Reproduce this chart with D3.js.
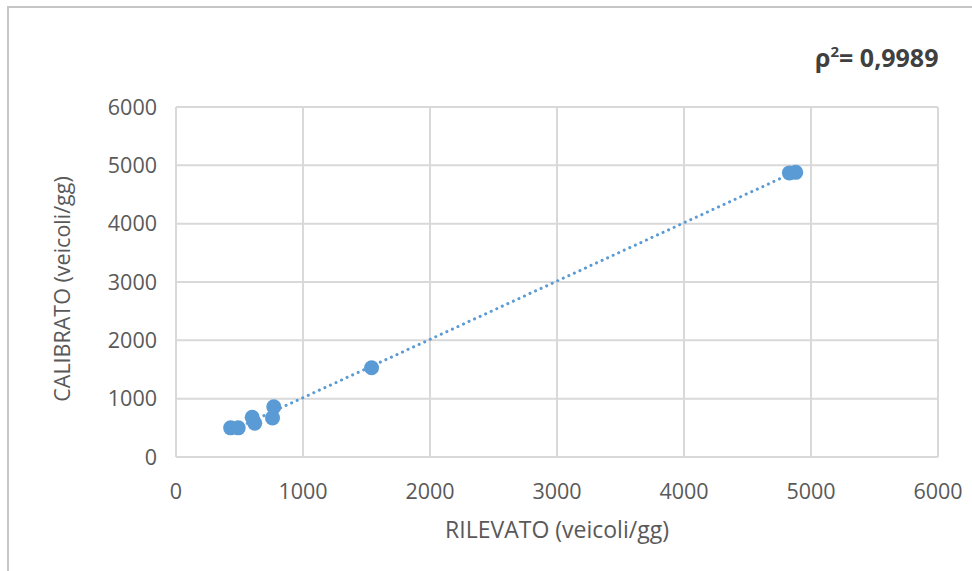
<!DOCTYPE html>
<html>
<head>
<meta charset="utf-8">
<script src="https://cdn.jsdelivr.net/npm/d3@7"></script>
<style>
  body { margin: 0; background: #fff; }
  svg text { font-family: "Open Sans", "Liberation Sans", sans-serif; }
</style>
</head>
<body>
<div id="chart"></div>
<script>
// observed vs calibrated flows (veicoli/gg)
const rilevato  = [430, 490, 600, 620, 770, 760, 1540, 4830, 4880];
const calibrato = [500, 500, 680, 580, 860, 670, 1530, 4870, 4880];
const xTicks = [0, 1000, 2000, 3000, 4000, 5000, 6000];
const yTicks = [0, 1000, 2000, 3000, 4000, 5000, 6000];
const rhoLabel = "0,9989";

const width = 972, height = 571;
const margin = { top: 107, right: 34, bottom: 114, left: 176 };

const svg = d3.select("#chart")
  .append("svg")
  .attr("width", width)
  .attr("height", height);

// outer chart frame
svg.append("path")
  .attr("d", `M8,${height + 5}V7H${width + 5}`)
  .attr("fill", "none")
  .attr("stroke", "#c6c6c6")
  .attr("stroke-width", 2);

const x = d3.scaleLinear()
  .domain([0, 6000])
  .range([margin.left, width - margin.right]);

const y = d3.scaleLinear()
  .domain([0, 6000])
  .range([height - margin.bottom, margin.top]);

// grid
svg.append("g")
  .selectAll("line.v")
  .data(xTicks)
  .enter()
  .append("line")
  .attr("x1", d => x(d)).attr("x2", d => x(d))
  .attr("y1", y(0)).attr("y2", y(6000))
  .attr("stroke", "#d9d9d9")
  .attr("stroke-width", 2);

svg.append("g")
  .selectAll("line.h")
  .data(yTicks)
  .enter()
  .append("line")
  .attr("x1", x(0)).attr("x2", x(6000))
  .attr("y1", d => y(d)).attr("y2", d => y(d))
  .attr("stroke", "#d9d9d9")
  .attr("stroke-width", 2);

// tick labels
svg.append("g")
  .selectAll("text")
  .data(xTicks)
  .enter()
  .append("text")
  .attr("x", d => x(d))
  .attr("y", y(0) + 34)
  .attr("dy", "0.35em")
  .attr("text-anchor", "middle")
  .attr("font-size", 21.5)
  .attr("fill", "#595959")
  .text(d => d);

svg.append("g")
  .selectAll("text")
  .data(yTicks)
  .enter()
  .append("text")
  .attr("x", x(0) - 19)
  .attr("y", d => y(d))
  .attr("dy", "0.35em")
  .attr("text-anchor", "end")
  .attr("font-size", 21.5)
  .attr("fill", "#595959")
  .text(d => d);

// axis titles
svg.append("text")
  .attr("x", (x(0) + x(6000)) / 2)
  .attr("y", 530)
  .attr("dy", "0.35em")
  .attr("text-anchor", "middle")
  .attr("font-size", 23)
  .attr("fill", "#595959")
  .text("RILEVATO (veicoli/gg)");

svg.append("text")
  .attr("transform", "translate(62,289) rotate(-90)")
  .attr("dy", "0.35em")
  .attr("text-anchor", "middle")
  .attr("font-size", 21.5)
  .attr("fill", "#595959")
  .text("CALIBRATO (veicoli/gg)");

// linear trendline (least squares)
const n = rilevato.length;
const mx = d3.mean(rilevato), my = d3.mean(calibrato);
let sxy = 0, sxx = 0;
for (let i = 0; i < n; i++) {
  sxy += (rilevato[i] - mx) * (calibrato[i] - my);
  sxx += (rilevato[i] - mx) ** 2;
}
const slope = sxy / sxx, icpt = my - slope * mx;
const xr = d3.extent(rilevato);

svg.append("line")
  .attr("x1", x(xr[0])).attr("y1", y(slope * xr[0] + icpt))
  .attr("x2", x(xr[1])).attr("y2", y(slope * xr[1] + icpt))
  .attr("stroke", "#5b9bd5")
  .attr("stroke-width", 3)
  .attr("stroke-linecap", "round")
  .attr("stroke-dasharray", "0.1,6");

// points
svg.append("g")
  .selectAll("circle")
  .data(rilevato)
  .enter()
  .append("circle")
  .attr("cx", d => x(d))
  .attr("cy", (_, i) => y(calibrato[i]))
  .attr("r", 7.5)
  .attr("fill", "#5b9bd5");

// rho^2 label
const rho = svg.append("text")
  .attr("x", 815)
  .attr("y", 67)
  .attr("font-size", 25)
  .attr("font-weight", "bold")
  .attr("fill", "#404040");
rho.append("tspan").text("ρ");
rho.append("tspan").attr("dy", -10).attr("font-size", 15).text("2");
rho.append("tspan").attr("dy", 10).text("= " + rhoLabel);
</script>
</body>
</html>
